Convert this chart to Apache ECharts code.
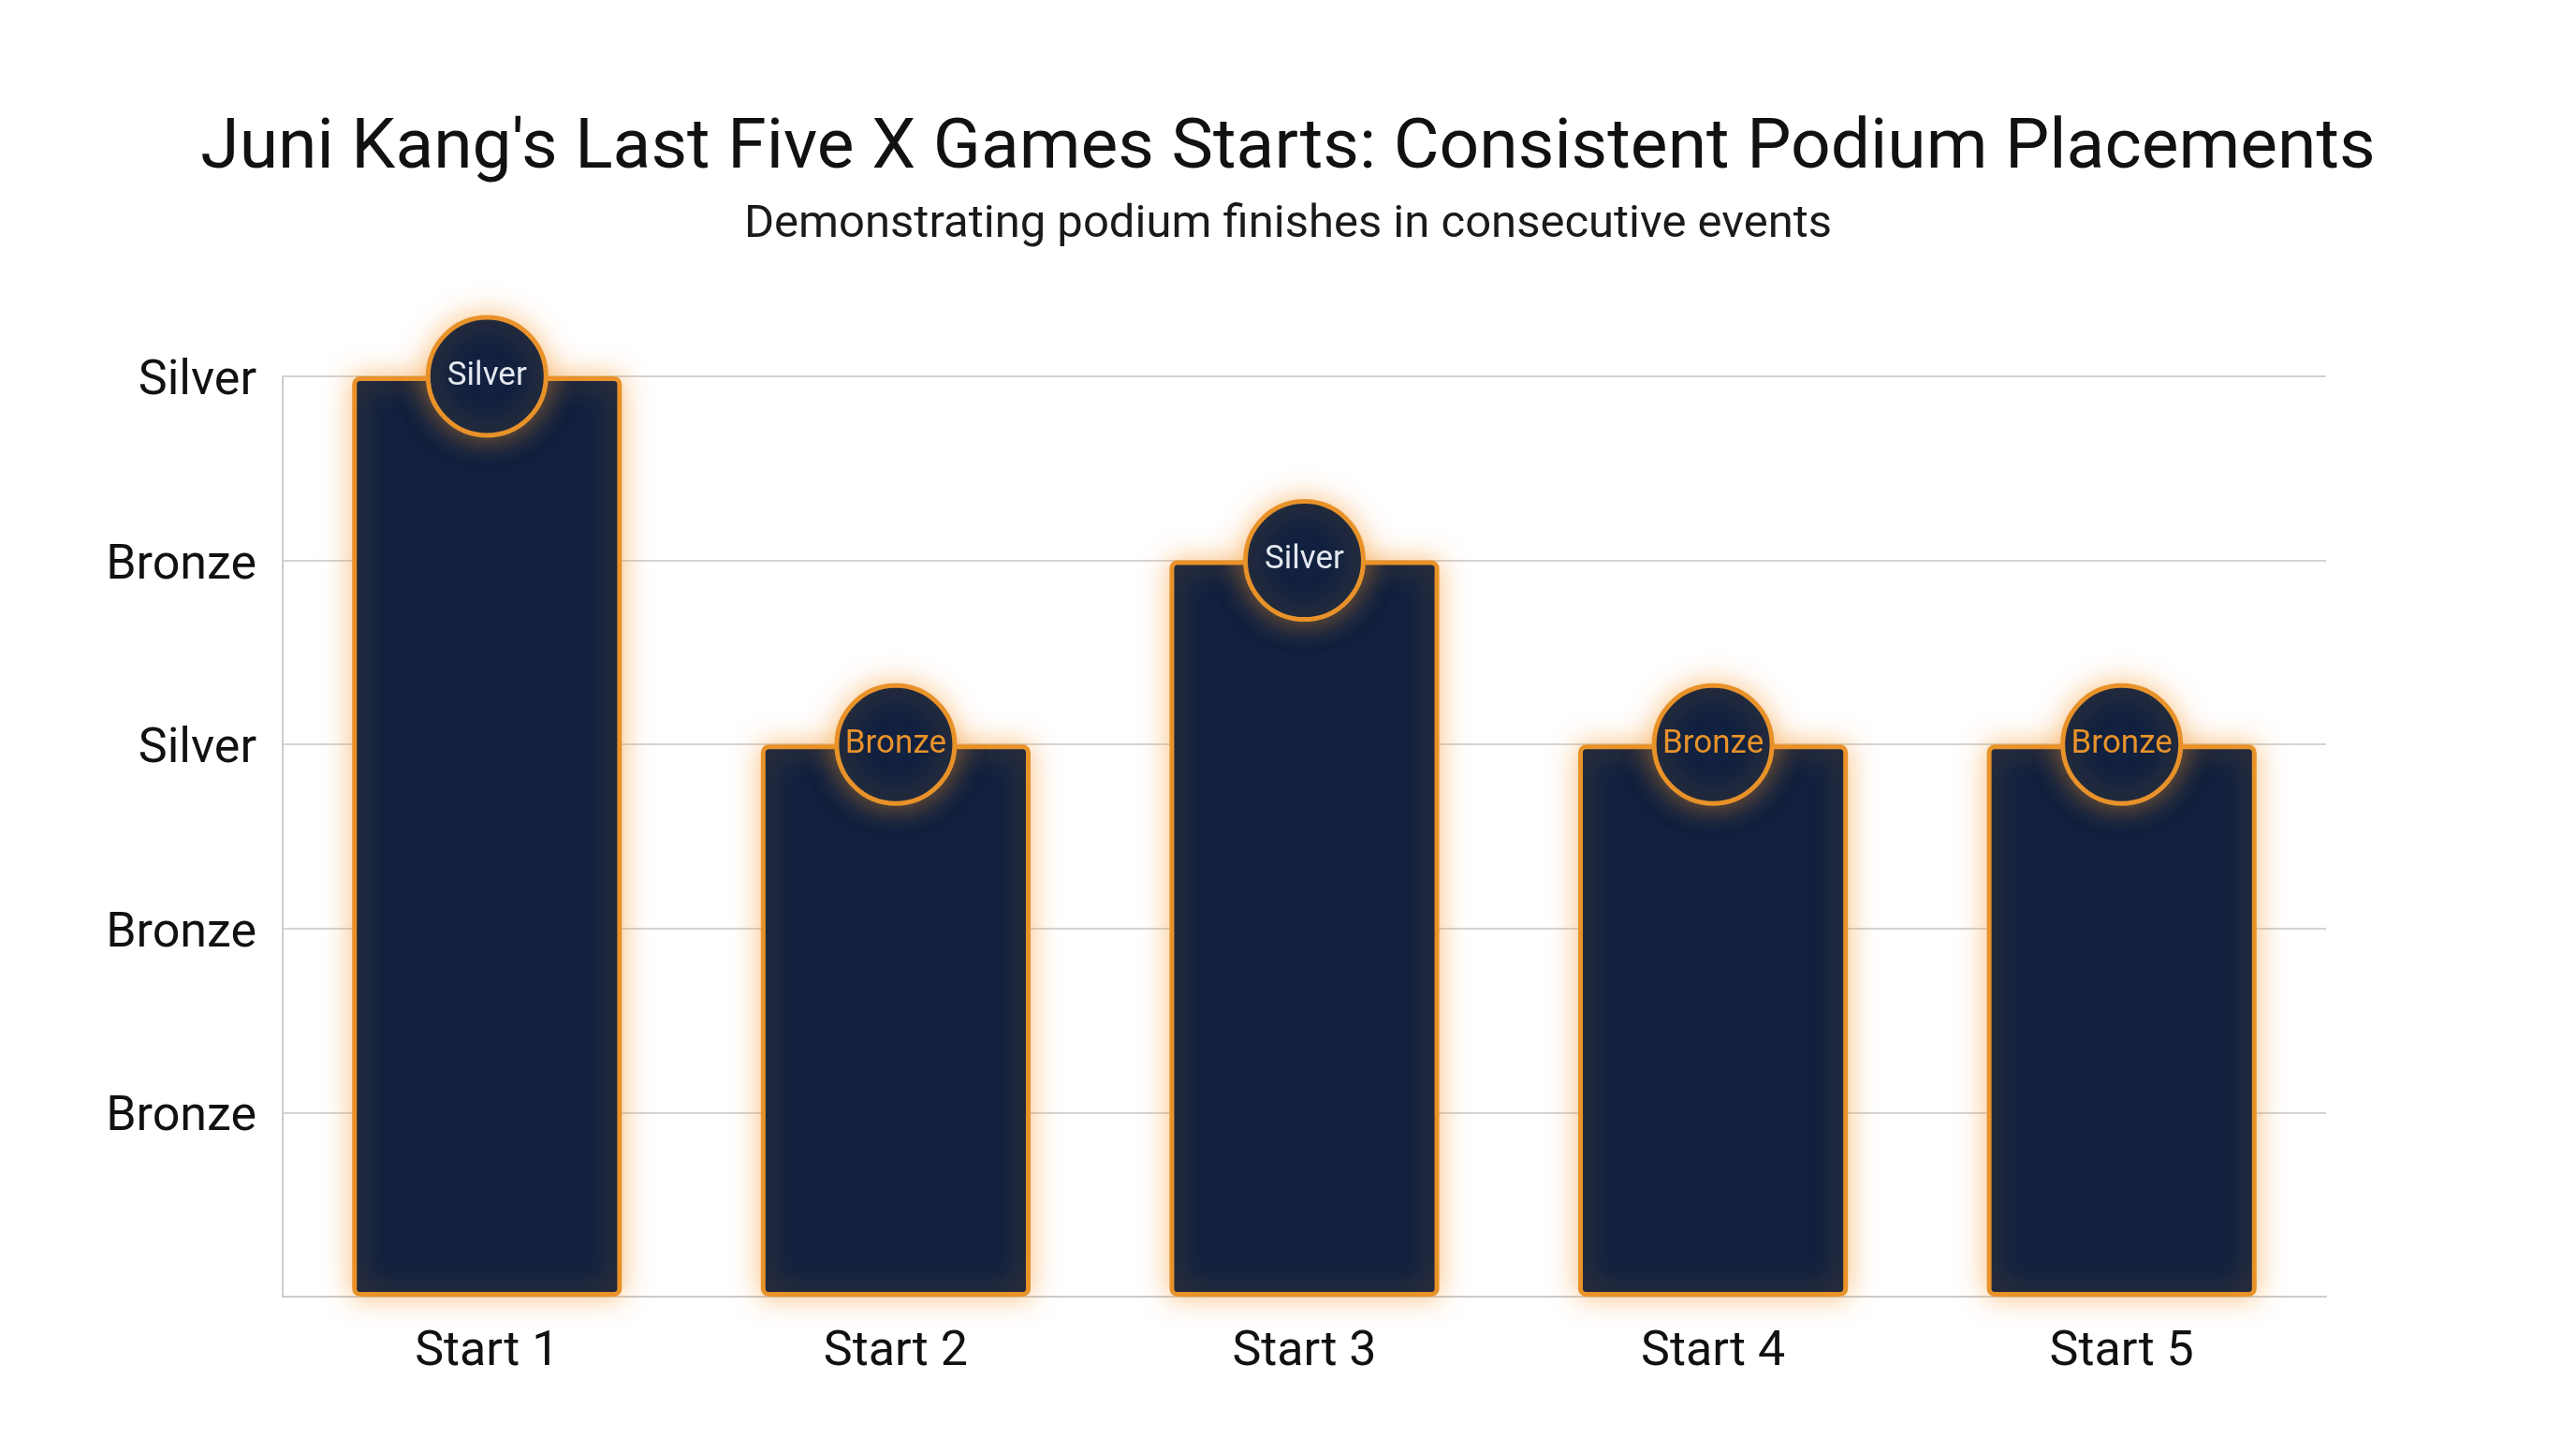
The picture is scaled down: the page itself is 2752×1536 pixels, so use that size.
<!DOCTYPE html>
<html>
<head>
<meta charset="utf-8">
<script src="https://cdn.jsdelivr.net/npm/echarts@6/dist/echarts.min.js"></script>
<style>
html,body{margin:0;padding:0;background:#ffffff;}
#chart{width:2752px;height:1536px;}
</style>
</head>
<body>
<div id="chart"></div>
<script>
const titleText = "Juni Kang's Last Five X Games Starts: Consistent Podium Placements";
const subtitleText = "Demonstrating podium finishes in consecutive events";
const categories = ['Start 1', 'Start 2', 'Start 3', 'Start 4', 'Start 5'];
const barValues = [5, 3, 4, 3, 3];
const medals = ['Silver', 'Bronze', 'Silver', 'Bronze', 'Bronze'];
const yTickLabels = ['', 'Bronze', 'Bronze', 'Silver', 'Bronze', 'Silver'];

const NAVY = '#11213F';
const ORANGE = '#E8922A';
const FONT = 'Roboto';

const chart = echarts.init(document.getElementById('chart'), null, {renderer: 'canvas'});

const scatterData = barValues.map((v, i) => ({
  value: v,
  label: { color: medals[i] === 'Silver' ? '#E4E8F0' : ORANGE }
}));

chart.setOption({
  backgroundColor: '#ffffff',
  textStyle: { fontFamily: FONT },
  title: [
    {
      text: titleText,
      left: 'center',
      top: 118,
      textStyle: { fontFamily: FONT, fontSize: 75, fontWeight: 'normal', color: '#111111' }
    },
    {
      text: subtitleText,
      left: 'center',
      top: 211,
      textStyle: { fontFamily: FONT, fontSize: 49, fontWeight: 'normal', color: '#1a1a1a' }
    }
  ],
  grid: { left: 302, right: 267, top: 402, bottom: 151, containLabel: false },
  xAxis: {
    type: 'category',
    data: categories,
    axisLine: { show: true, lineStyle: { color: '#cccccc', width: 2 } },
    axisTick: { show: false },
    axisLabel: { fontFamily: FONT, fontSize: 52, color: '#111111', margin: 34 }
  },
  yAxis: {
    type: 'value',
    min: 0,
    max: 5,
    interval: 1,
    axisLine: { show: true, lineStyle: { color: '#cccccc', width: 2 } },
    axisTick: { show: false },
    splitLine: { show: true, lineStyle: { color: '#d4d4d4', width: 2 } },
    axisLabel: {
      fontFamily: FONT, fontSize: 52, color: '#111111', margin: 28,
      formatter: (val) => {
        const t = yTickLabels[Math.round(val)] || '';
        return t ? '{a|' + t + '}' : '';
      },
      rich: {
        a: { fontFamily: FONT, fontSize: 52, color: '#111111', padding: [12, 0, 0, 0] }
      }
    }
  },
  series: [
    {
      type: 'bar',
      data: barValues,
      barWidth: '66%',
      z: 2,
      itemStyle: {
        color: NAVY,
        borderColor: ORANGE,
        borderWidth: 5,
        borderRadius: 6,
        shadowBlur: 30,
        shadowColor: 'rgba(245,150,40,0.55)'
      },
      emphasis: { disabled: true }
    },
    {
      type: 'scatter',
      data: scatterData,
      symbol: 'circle',
      symbolSize: 126,
      z: 5,
      itemStyle: {
        color: NAVY,
        borderColor: ORANGE,
        borderWidth: 5,
        shadowBlur: 30,
        shadowColor: 'rgba(245,150,40,0.55)',
        opacity: 1
      },
      label: {
        show: true,
        position: 'inside',
        fontFamily: FONT,
        fontSize: 35,
        formatter: (p) => medals[p.dataIndex]
      },
      emphasis: { disabled: true }
    }
  ]
});
</script>
</body>
</html>
